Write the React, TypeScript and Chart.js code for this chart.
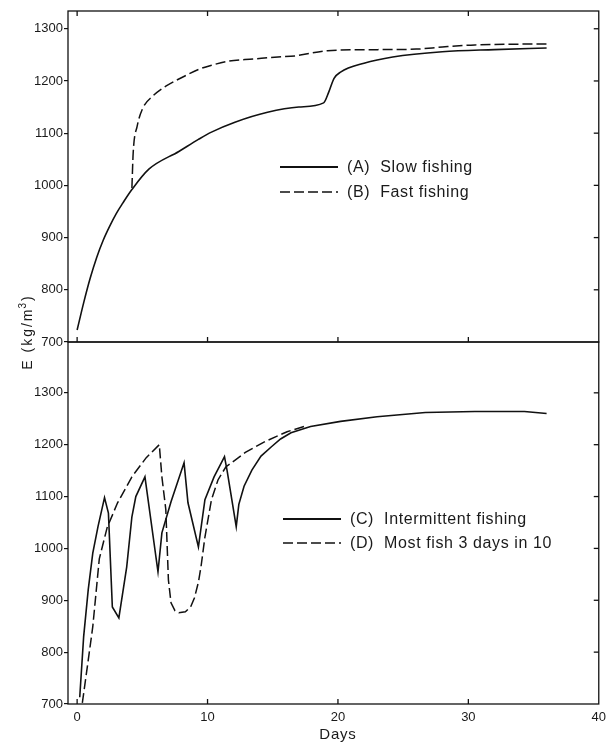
import { useEffect, useRef } from "react";
import { Chart, registerables } from "chart.js";

Chart.register(...registerables);

// ---- data ----
const xTickValues = [0, 10, 20, 30, 40];
const yTickValues = [700, 800, 900, 1000, 1100, 1200, 1300];

const slowDays = [0, 0.5, 1.0, 1.5, 2.0, 2.5, 3.0, 3.5, 4.2, 5.5, 7.8, 9.3, 10.3, 12.1, 14.6, 17, 18.9, 19.3, 19.7, 20.2, 22, 24.2, 28, 32, 36];
const slowE = [723, 775, 822, 862, 895, 922, 946, 966, 992, 1031, 1065, 1088, 1102, 1121, 1140, 1150, 1158, 1179, 1205, 1217, 1234, 1246, 1256, 1260, 1263];

const fastDays = [4.2, 4.3, 4.6, 5.0, 5.8, 6.8, 8.3, 9.3, 10.3, 11.6, 13.5, 15.4, 16.7, 19.2, 23, 26, 28, 30.5, 36];
const fastE = [995, 1063, 1113, 1146, 1171, 1190, 1210, 1222, 1230, 1238, 1242, 1246, 1248, 1258, 1260, 1261, 1265, 1269, 1271];

const interDays = [0.2, 0.5, 0.85, 1.2, 1.6, 2.1, 2.4, 2.7, 3.2, 3.8, 4.2, 4.5, 5.2, 6.2, 6.5, 7.2, 8.2, 8.5, 9.3, 9.8, 10.5, 11.3, 11.5, 12.2, 12.4, 12.8, 13.4, 14.1, 14.9, 15.6, 16.4, 17.9, 20.2, 23, 26.7, 30.5, 34.3, 36];
const interE = [713, 830, 920, 991, 1042, 1098, 1068, 887, 866, 964, 1061, 1100, 1138, 955, 1030, 1090, 1165, 1088, 1003, 1094, 1138, 1177, 1150, 1042, 1085, 1120, 1151, 1178, 1196, 1211, 1223, 1235, 1245, 1254, 1262, 1264, 1264, 1260];

const mostDays = [0.4, 0.8, 1.2, 1.7, 2.3, 3.1, 4.2, 5.3, 6.3, 6.5, 6.8, 7.0, 7.2, 7.5, 7.8, 8.3, 8.7, 9.0, 9.3, 9.5, 9.8, 10.3, 10.8, 11.4, 12.9, 14.4, 16.1, 17.5];
const mostE = [702, 775, 849, 980, 1040, 1088, 1138, 1175, 1200, 1138, 1075, 939, 895, 880, 876, 878, 887, 905, 935, 965, 1022, 1094, 1132, 1157, 1185, 1206, 1225, 1236];

const labelA = "(A)  Slow fishing";
const labelB = "(B)  Fast fishing";
const labelC = "(C)  Intermittent fishing";
const labelD = "(D)  Most fish 3 days in 10";
const yTitleMain = "E (kg/m";
const yTitleSup = "3";
const yTitleEnd = ")";
const xTitle = "Days";

const FONT = '"Liberation Sans", Arial, Helvetica, sans-serif';
const INK = "#111";

const pts = (xs: number[], ys: number[]) => xs.map((x, i) => ({ x, y: ys[i] }));

const framePlugin = {
  id: "frame",
  afterDraw(chart: any) {
    const ctx = chart.ctx as CanvasRenderingContext2D;
    const xs = chart.scales.x;
    const top = chart.scales.yTop;
    const bot = chart.scales.yBot;
    const { left, right } = chart.chartArea;
    ctx.save();
    ctx.strokeStyle = INK;
    ctx.lineWidth = 1.3;
    const seg = (x1: number, y1: number, x2: number, y2: number) => {
      ctx.beginPath();
      ctx.moveTo(x1, y1);
      ctx.lineTo(x2, y2);
      ctx.stroke();
    };
    for (const s of [top, bot]) {
      ctx.strokeRect(left, s.top, right - left, s.bottom - s.top);
      for (const t of s.ticks) {
        const y = s.getPixelForValue(t.value);
        if (y <= s.top + 1 || y >= s.bottom - 1) continue;
        seg(right - 5, y, right, y);
      }
    }
    for (const t of xs.ticks) {
      const x = xs.getPixelForValue(t.value);
      if (x >= right - 1 || x <= left + 1) continue;
      seg(x, top.top, x, top.top + 5);
      seg(x, top.bottom, x, top.bottom - 5);
      seg(x, bot.bottom, x, bot.bottom - 5);
    }

    // legends
    const drawLegend = (dsIdx: number[], x0: number, y0: number, gap: number) => {
      dsIdx.forEach((di, r) => {
        const ds = chart.data.datasets[di];
        const y = y0 + r * gap;
        ctx.save();
        ctx.lineWidth = ds.borderWidth + 0.2;
        ctx.setLineDash(ds.borderDash || []);
        seg(x0, y, x0 + 58, y);
        ctx.restore();
        ctx.fillStyle = "#1a1a1a";
        ctx.font = `16px ${FONT}`;
        (ctx as any).letterSpacing = "0.6px";
        ctx.textAlign = "left";
        ctx.textBaseline = "middle";
        ctx.fillText(ds.label, x0 + 67, y + 1);
      });
    };
    drawLegend([0, 1], 280, 167, 25);
    drawLegend([2, 3], 283, 519, 24);

    // x title
    ctx.fillStyle = "#1a1a1a";
    ctx.font = `15px ${FONT}`;
    (ctx as any).letterSpacing = "0.8px";
    ctx.textAlign = "center";
    ctx.textBaseline = "middle";
    ctx.fillText(xTitle, xs.getPixelForValue(20), chart.height - 8);

    // y title with superscript
    ctx.translate(27, top.bottom - 10);
    ctx.rotate(-Math.PI / 2);
    ctx.textAlign = "left";
    ctx.textBaseline = "alphabetic";
    const mainFont = `14px ${FONT}`;
    const supFont = `10px ${FONT}`;
    ctx.font = mainFont;
    (ctx as any).letterSpacing = "2px";
    const w1 = ctx.measureText(yTitleMain).width;
    ctx.font = supFont;
    (ctx as any).letterSpacing = "0px";
    const w2 = ctx.measureText(yTitleSup).width + 1;
    ctx.font = mainFont;
    (ctx as any).letterSpacing = "2px";
    const w3 = ctx.measureText(yTitleEnd).width;
    let xx = -(w1 + w2 + w3) / 2;
    const base = 5;
    ctx.fillText(yTitleMain, xx, base);
    xx += w1;
    ctx.font = supFont;
    (ctx as any).letterSpacing = "0px";
    ctx.fillText(yTitleSup, xx - 1, base - 6);
    xx += w2;
    ctx.font = mainFont;
    (ctx as any).letterSpacing = "2px";
    ctx.fillText(yTitleEnd, xx, base);
    ctx.restore();
  },
};

export default function App() {
  const ref = useRef<HTMLCanvasElement | null>(null);
  useEffect(() => {
    if (!ref.current) return;
    const yCommon = (min: number, max: number, weight: number) => ({
      type: "linear" as const,
      position: "left" as const,
      stack: "panels",
      stackWeight: weight,
      min,
      max,
      border: { display: false },
      grid: { display: true, drawOnChartArea: false, drawTicks: true, tickLength: 4, color: INK, lineWidth: 1.2 },
      ticks: {
        includeBounds: false,
        padding: 1,
        color: "#1a1a1a",
        font: { family: FONT, size: 13 },
        callback: (v: any) => String(v),
      },
      afterBuildTicks: (s: any) => {
        s.ticks = yTickValues.filter((v) => v >= min && v <= max).map((v) => ({ value: v }));
      },
      afterFit: (s: any) => {
        s.width = 68;
      },
    });
    const chart = new Chart(ref.current, {
      type: "line",
      data: {
        datasets: [
          {
            label: labelA,
            data: pts(slowDays, slowE),
            yAxisID: "yTop",
            borderColor: INK,
            borderWidth: 1.6,
            pointRadius: 0,
            cubicInterpolationMode: "monotone",
            fill: false,
          },
          {
            label: labelB,
            data: pts(fastDays, fastE),
            yAxisID: "yTop",
            borderColor: INK,
            borderWidth: 1.5,
            borderDash: [10, 4],
            pointRadius: 0,
            cubicInterpolationMode: "monotone",
            fill: false,
          },
          {
            label: labelC,
            data: pts(interDays, interE),
            yAxisID: "yBot",
            borderColor: INK,
            borderWidth: 1.6,
            pointRadius: 0,
            tension: 0,
            fill: false,
          },
          {
            label: labelD,
            data: pts(mostDays, mostE),
            yAxisID: "yBot",
            borderColor: INK,
            borderWidth: 1.5,
            borderDash: [10, 4],
            pointRadius: 0,
            tension: 0,
            fill: false,
          },
        ] as any,
      },
      options: {
        animation: false,
        responsive: true,
        maintainAspectRatio: false,
        layout: { padding: { top: 11, right: 8, left: 0, bottom: 0 } },
        plugins: { legend: { display: false }, tooltip: { enabled: false }, title: { display: false } },
        scales: {
          x: {
            type: "linear",
            position: "bottom",
            min: -0.7,
            max: 40,
            border: { display: false },
            grid: { display: false, drawTicks: false, tickLength: 0 },
            ticks: {
              padding: 6,
              color: "#1a1a1a",
              font: { family: FONT, size: 13 },
              callback: (v: any) => String(v),
            },
            afterBuildTicks: (s: any) => {
              s.ticks = xTickValues.map((v) => ({ value: v }));
            },
            afterFit: (s: any) => {
              s.height = 39;
            },
          },
          yBot: yCommon(700, 1398, 362),
          yTop: yCommon(700, 1334, 331),
        } as any,
      },
      plugins: [framePlugin],
    });
    return () => chart.destroy();
  }, []);
  return (
    <div style={{ position: "fixed", left: 0, top: 0, width: 612, height: 743, background: "#fff" }}>
      <canvas ref={ref} />
    </div>
  );
}
